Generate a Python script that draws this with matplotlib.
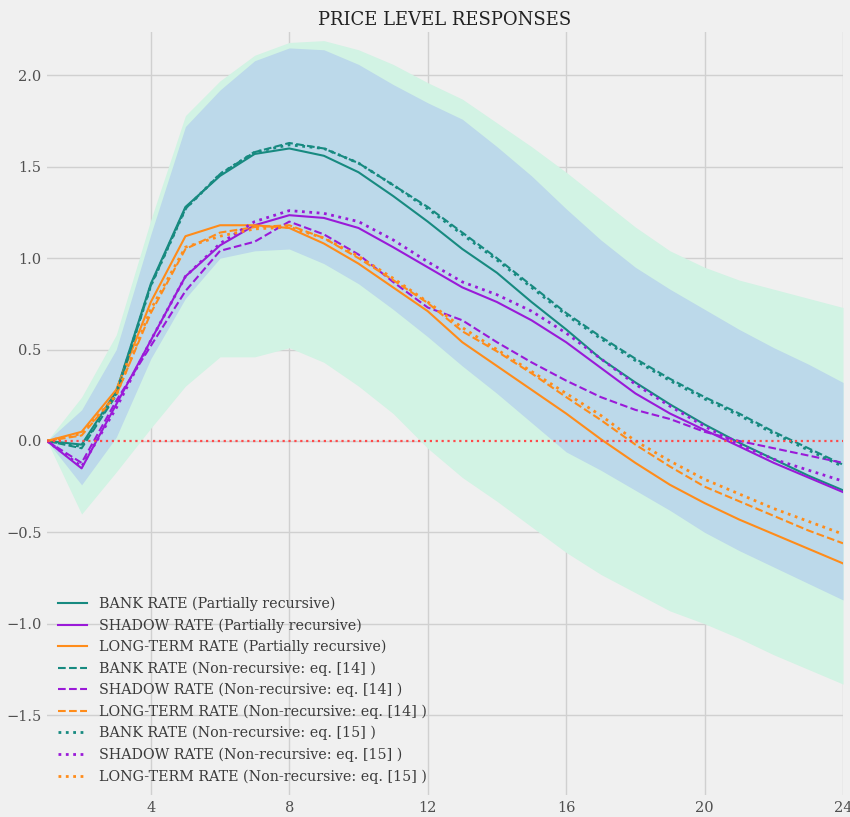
import matplotlib
matplotlib.use("Agg")
import matplotlib.pyplot as plt
import numpy as np

plt.rcParams['font.family'] = ['DejaVu Serif']

# horizon (quarters)
h = np.arange(1, 25)

# confidence bands
band_wide_lo = [0, -0.40, -0.17, 0.07, 0.30, 0.46, 0.46, 0.51, 0.43, 0.30, 0.15, -0.04,
                -0.20, -0.33, -0.47, -0.61, -0.73, -0.83, -0.93, -1.00, -1.08, -1.17, -1.25, -1.33]
band_wide_hi = [0, 0.24, 0.58, 1.21, 1.78, 1.97, 2.11, 2.18, 2.19, 2.14, 2.06, 1.96,
                1.87, 1.74, 1.61, 1.47, 1.32, 1.17, 1.04, 0.95, 0.88, 0.83, 0.78, 0.73]
band_lo = [0, -0.24, 0.02, 0.45, 0.78, 1.00, 1.04, 1.05, 0.97, 0.86, 0.72, 0.57,
           0.41, 0.26, 0.10, -0.06, -0.16, -0.27, -0.38, -0.50, -0.60, -0.69, -0.78, -0.87]
band_hi = [0, 0.17, 0.50, 1.13, 1.72, 1.92, 2.08, 2.15, 2.14, 2.06, 1.95, 1.85,
           1.76, 1.61, 1.45, 1.27, 1.10, 0.95, 0.83, 0.72, 0.61, 0.51, 0.42, 0.32]

# partially recursive
bank_pr = [0, -0.02, 0.27, 0.86, 1.28, 1.45, 1.57, 1.60, 1.56, 1.47, 1.34, 1.20,
           1.05, 0.92, 0.76, 0.61, 0.45, 0.32, 0.20, 0.09, -0.01, -0.10, -0.19, -0.27]
shadow_pr = [0, -0.15, 0.20, 0.55, 0.90, 1.07, 1.18, 1.235, 1.22, 1.165, 1.06, 0.95,
             0.84, 0.76, 0.66, 0.54, 0.40, 0.26, 0.15, 0.06, -0.03, -0.12, -0.20, -0.28]
long_pr = [0, 0.05, 0.28, 0.76, 1.12, 1.18, 1.18, 1.165, 1.08, 0.97, 0.84, 0.71,
           0.54, 0.41, 0.28, 0.15, 0.01, -0.12, -0.24, -0.34, -0.43, -0.51, -0.59, -0.67]

# non-recursive, eq. [14]
bank_14 = [0, -0.04, 0.25, 0.85, 1.27, 1.46, 1.58, 1.63, 1.60, 1.52, 1.40, 1.28,
           1.14, 1.00, 0.85, 0.70, 0.57, 0.45, 0.34, 0.24, 0.15, 0.05, -0.04, -0.13]
shadow_14 = [0, -0.12, 0.22, 0.52, 0.82, 1.04, 1.09, 1.20, 1.13, 1.02, 0.87, 0.73,
             0.66, 0.54, 0.43, 0.33, 0.24, 0.17, 0.12, 0.05, 0.00, -0.04, -0.08, -0.12]
long_14 = [0, 0.03, 0.25, 0.70, 1.05, 1.14, 1.17, 1.18, 1.11, 1.00, 0.88, 0.755,
           0.60, 0.49, 0.37, 0.24, 0.115, -0.02, -0.14, -0.25, -0.33, -0.41, -0.49, -0.56]

# non-recursive, eq. [15]
bank_15 = [0, -0.03, 0.26, 0.85, 1.27, 1.46, 1.58, 1.62, 1.60, 1.52, 1.40, 1.27,
           1.13, 0.99, 0.84, 0.69, 0.56, 0.44, 0.33, 0.23, 0.14, 0.04, -0.05, -0.14]
shadow_15 = [0, -0.14, 0.18, 0.55, 0.90, 1.08, 1.20, 1.26, 1.245, 1.20, 1.10, 0.98,
             0.87, 0.80, 0.71, 0.59, 0.45, 0.31, 0.19, 0.08, -0.02, -0.10, -0.16, -0.22]
long_15 = [0, 0.04, 0.25, 0.72, 1.06, 1.12, 1.16, 1.17, 1.11, 1.01, 0.89, 0.76,
           0.62, 0.50, 0.38, 0.26, 0.14, 0.00, -0.11, -0.21, -0.29, -0.37, -0.44, -0.51]

teal = '#178a80'
purple = '#9a1ad8'
orange = '#ff8c1a'
bg = '#f0f0f0'

fig = plt.figure(figsize=(8.5, 8.17), dpi=100, facecolor=bg)
ax = fig.add_axes([0.0553, 0.0269, 0.9365, 0.9339])
ax.set_facecolor(bg)

ax.fill_between(h, band_wide_lo, band_wide_hi, color='#d2f3e4', lw=0)
ax.fill_between(h, band_lo, band_hi, color='#bcd9ea', lw=0)

lw = 1.5
ax.plot(h, bank_pr, color=teal, lw=lw, label='BANK RATE (Partially recursive)')
ax.plot(h, shadow_pr, color=purple, lw=lw, label='SHADOW RATE (Partially recursive)')
ax.plot(h, long_pr, color=orange, lw=lw, label='LONG-TERM RATE (Partially recursive)')
ax.plot(h, bank_14, color=teal, lw=lw, ls='--', label='BANK RATE (Non-recursive: eq. [14] )')
ax.plot(h, shadow_14, color=purple, lw=lw, ls='--', label='SHADOW RATE (Non-recursive: eq. [14] )')
ax.plot(h, long_14, color=orange, lw=lw, ls='--', label='LONG-TERM RATE (Non-recursive: eq. [14] )')
ax.plot(h, bank_15, color=teal, lw=2, ls=':', label='BANK RATE (Non-recursive: eq. [15] )')
ax.plot(h, shadow_15, color=purple, lw=2, ls=':', label='SHADOW RATE (Non-recursive: eq. [15] )')
ax.plot(h, long_15, color=orange, lw=2, ls=':', label='LONG-TERM RATE (Non-recursive: eq. [15] )')

ax.axhline(0, color='#ff4a4a', lw=1.6, ls=':')

ax.set_xlim(1, 24)
ax.set_ylim(-1.937, 2.237)
ax.set_xticks([4, 8, 12, 16, 20, 24])
ax.set_yticks([-1.5, -1.0, -0.5, 0.0, 0.5, 1.0, 1.5, 2.0])
ax.tick_params(length=0, labelsize=10.5, colors='#505050', pad=4)
ax.grid(True, color='#d0d0d0', lw=1)
ax.set_axisbelow(True)
for s in ax.spines.values():
    s.set_visible(False)

ax.set_title('PRICE LEVEL RESPONSES', fontsize=13, color='#222222', pad=5)

ax.legend(loc='lower left', bbox_to_anchor=(0.0, 0.0), frameon=False,
          fontsize=10.3, labelspacing=0.5, handlelength=2.0, borderaxespad=0.4,
          labelcolor='#3a3a3a')

fig.savefig('out.png', dpi=100, facecolor=bg)
